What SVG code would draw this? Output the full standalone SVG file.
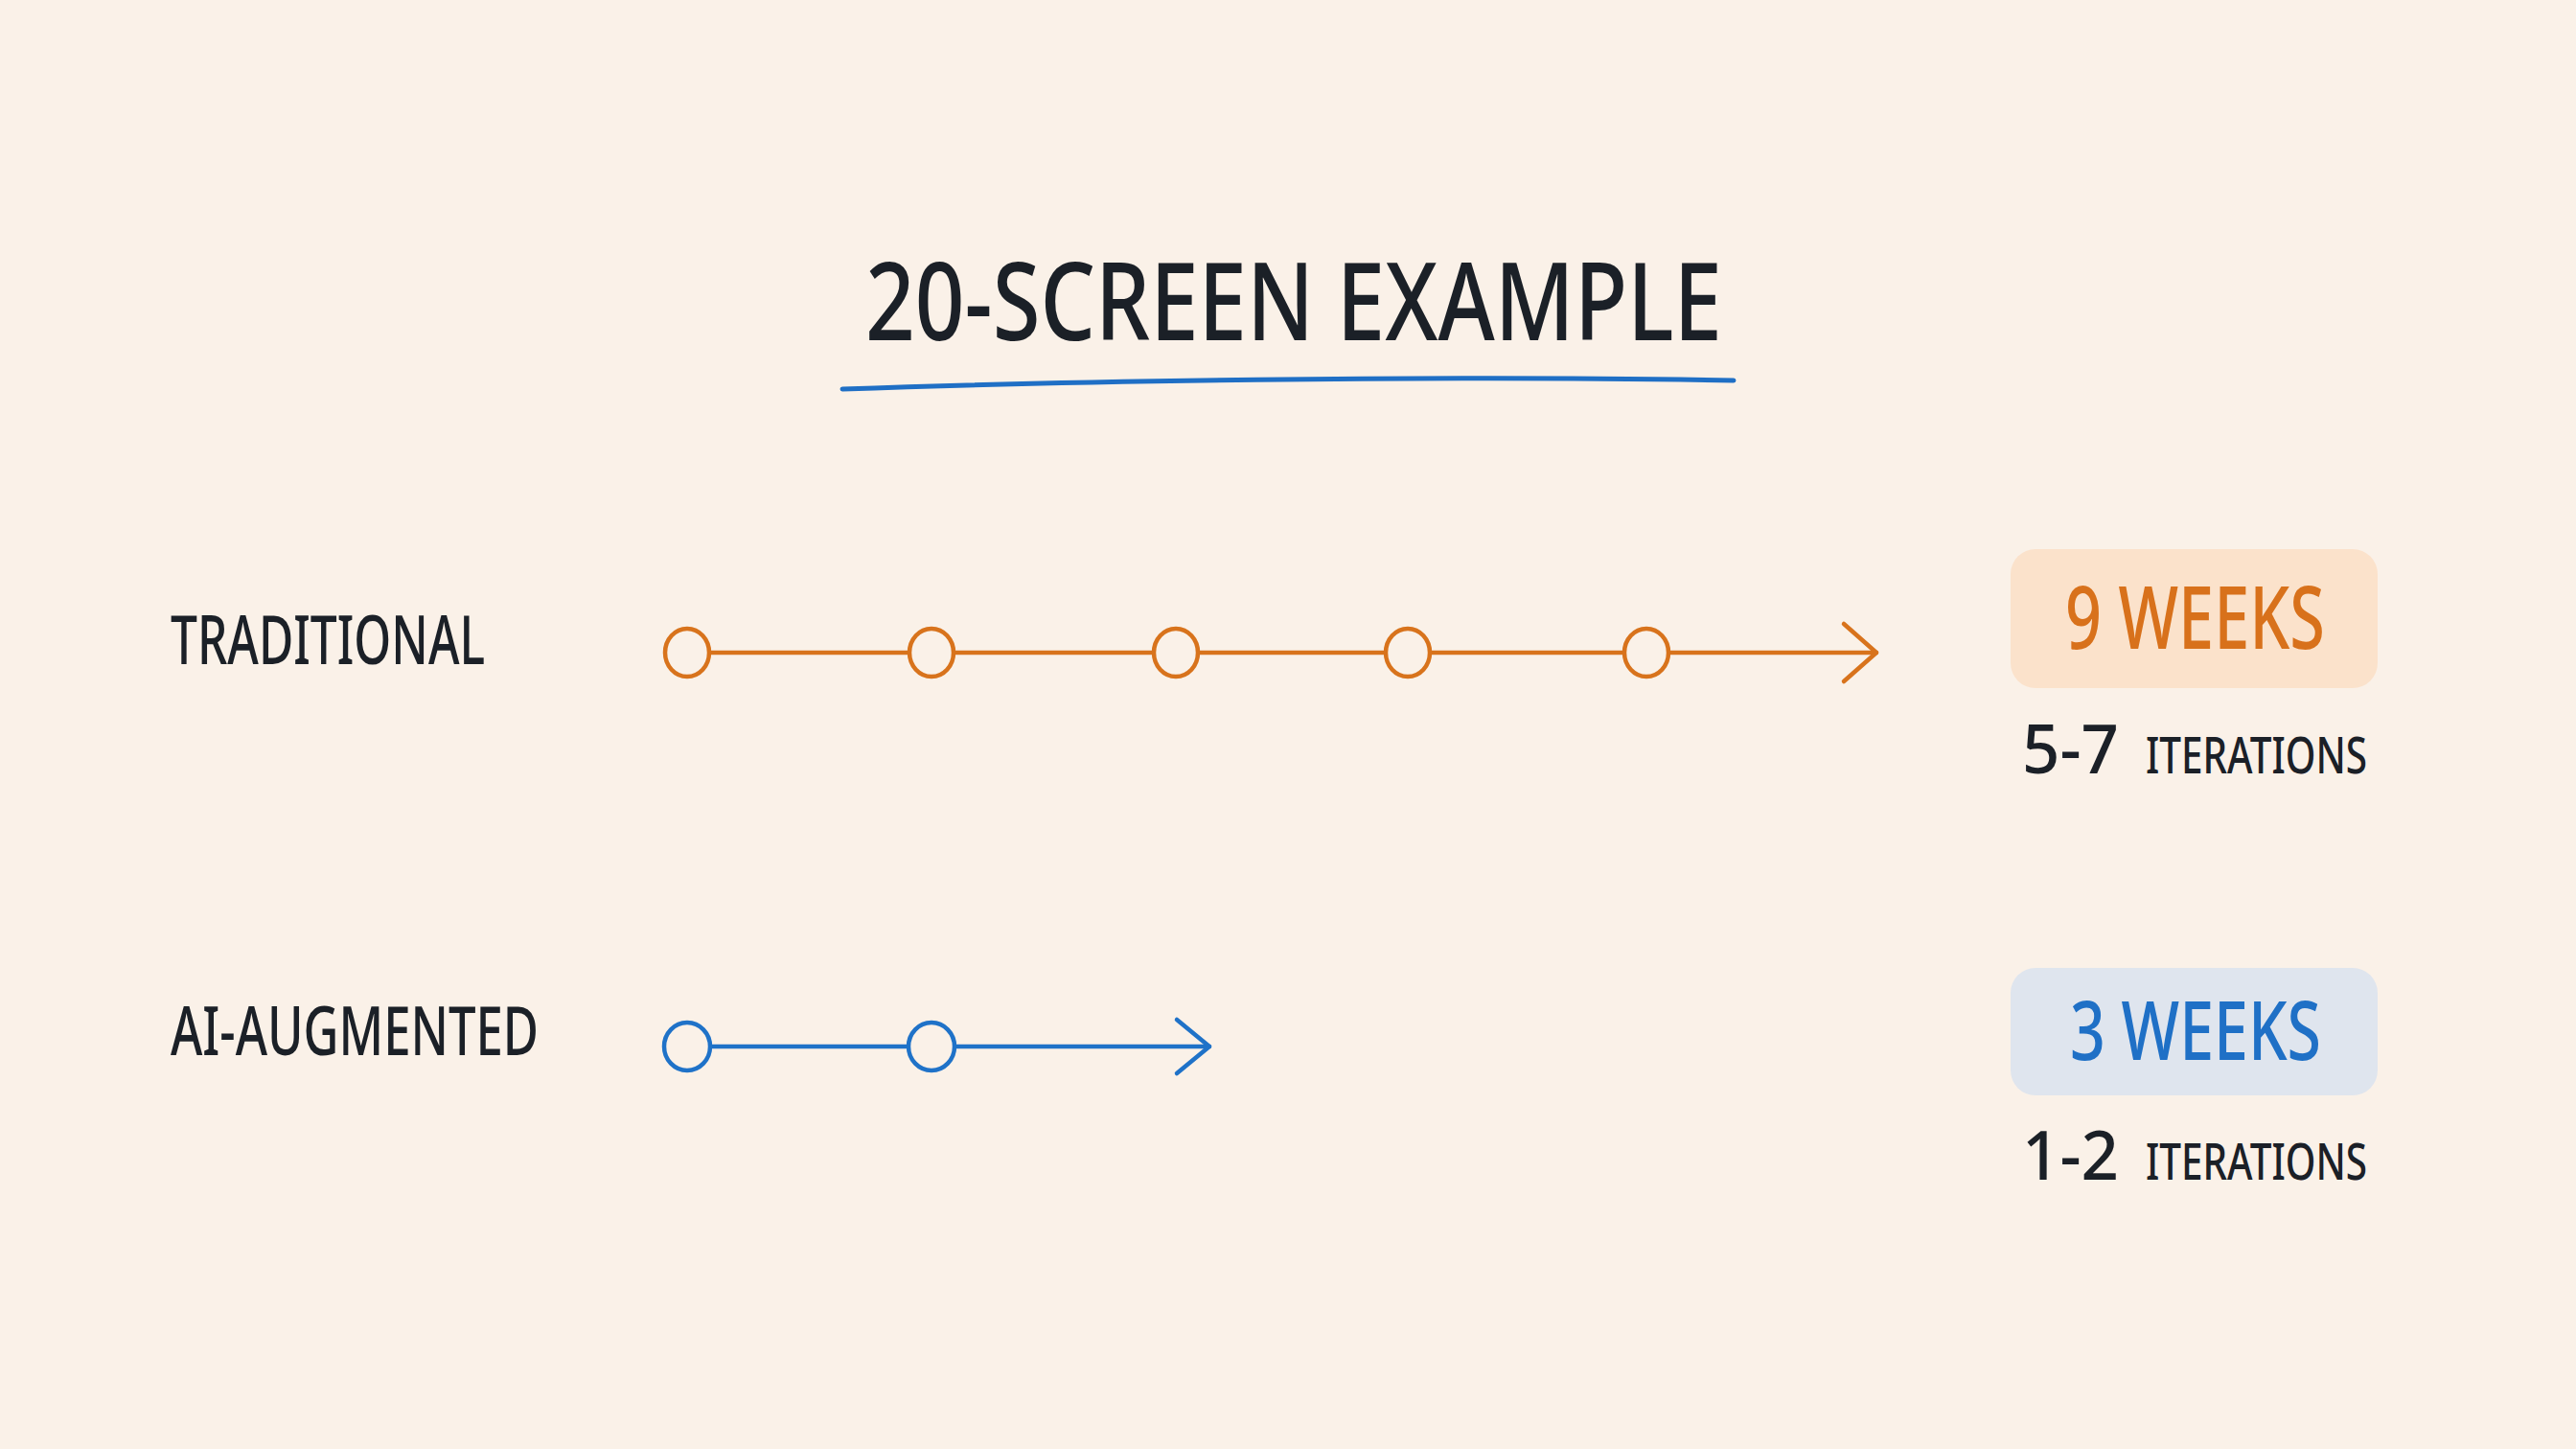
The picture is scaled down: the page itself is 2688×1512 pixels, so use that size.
<svg xmlns="http://www.w3.org/2000/svg" width="2688" height="1512" viewBox="0 0 2688 1512">
  <style>
    .ink { fill: #1b2027; font-family: "Noto Sans", "Open Sans", sans-serif; font-weight: 500; }
    .orangeText { fill: #d8711b; font-family: "Noto Sans", "Open Sans", sans-serif; font-weight: 500; }
    .blueText { fill: #1f70c6; font-family: "Noto Sans", "Open Sans", sans-serif; font-weight: 500; }
    .orangeLine { stroke: #d8731c; stroke-width: 4.5; fill: none; stroke-linecap: round; }
    .blueLine { stroke: #1f72c8; stroke-width: 4.5; fill: none; stroke-linecap: round; }
    .orangeDot { stroke: #d8731c; stroke-width: 4.5; fill: #faf1e8; }
    .blueDot { stroke: #1f72c8; stroke-width: 4.5; fill: #faf1e8; }
  </style>
  <defs>
    <marker id="arrowOrange" viewBox="-42 -36 48 72" refX="0" refY="0" markerWidth="48" markerHeight="72" markerUnits="userSpaceOnUse" orient="auto">
      <path d="M-34,-30 L0,0 L-34,30" fill="none" stroke="#d8731c" stroke-width="4.5" stroke-linecap="round" stroke-linejoin="round"/>
    </marker>
    <marker id="arrowBlue" viewBox="-42 -36 48 72" refX="0" refY="0" markerWidth="48" markerHeight="72" markerUnits="userSpaceOnUse" orient="auto">
      <path d="M-34,-28 L0,0 L-34,28" fill="none" stroke="#1f72c8" stroke-width="4.5" stroke-linecap="round" stroke-linejoin="round"/>
    </marker>
  </defs>

  <rect x="0" y="0" width="2688" height="1512" fill="#faf1e8"/>

  <g id="title">
    <text class="ink" x="903" y="355" font-size="113" textLength="894" lengthAdjust="spacingAndGlyphs">20-SCREEN EXAMPLE</text>
    <path d="M879,406 C1100,398 1500,391 1809,397" fill="none" stroke="#1f6fc5" stroke-width="5" stroke-linecap="round"/>
  </g>

  <g id="label-traditional">
    <text class="ink" x="178" y="693" font-size="70" textLength="328" lengthAdjust="spacingAndGlyphs">TRADITIONAL</text>
  </g>
  <g id="label-ai">
    <text class="ink" x="178" y="1101" font-size="70" textLength="384" lengthAdjust="spacingAndGlyphs">AI-AUGMENTED</text>
  </g>

  <g id="connectors">
    <line class="orangeLine" x1="717" y1="681" x2="1958" y2="681" marker-end="url(#arrowOrange)"/>
    <line class="blueLine" x1="717" y1="1092" x2="1262" y2="1092" marker-end="url(#arrowBlue)"/>
  </g>

  <g id="trad-1"><ellipse class="orangeDot" cx="717" cy="681" rx="23" ry="25"/></g>
  <g id="trad-2"><ellipse class="orangeDot" cx="972" cy="681" rx="23" ry="25"/></g>
  <g id="trad-3"><ellipse class="orangeDot" cx="1227" cy="681" rx="23" ry="25"/></g>
  <g id="trad-4"><ellipse class="orangeDot" cx="1469" cy="681" rx="23" ry="25"/></g>
  <g id="trad-5"><ellipse class="orangeDot" cx="1718" cy="681" rx="23" ry="25"/></g>

  <g id="ai-1"><ellipse class="blueDot" cx="717" cy="1092" rx="24" ry="25"/></g>
  <g id="ai-2"><ellipse class="blueDot" cx="972" cy="1092" rx="24" ry="25"/></g>

  <g id="result-traditional">
    <rect x="2098" y="573" width="383" height="145" rx="26" ry="26" fill="#fbe2cb"/>
    <text class="orangeText" x="2155" y="677" font-size="91" textLength="271" lengthAdjust="spacingAndGlyphs">9 WEEKS</text>
    <text class="ink" x="2110" y="807" font-size="70" textLength="101" lengthAdjust="spacingAndGlyphs">5-7</text>
    <text class="ink" x="2239" y="807" font-size="53" textLength="231" lengthAdjust="spacingAndGlyphs">ITERATIONS</text>
  </g>

  <g id="result-ai">
    <rect x="2098" y="1010" width="383" height="133" rx="26" ry="26" fill="#dfe5ee"/>
    <text class="blueText" x="2160" y="1106" font-size="85" textLength="262" lengthAdjust="spacingAndGlyphs">3 WEEKS</text>
    <text class="ink" x="2110" y="1231" font-size="70" textLength="101" lengthAdjust="spacingAndGlyphs">1-2</text>
    <text class="ink" x="2239" y="1231" font-size="53" textLength="231" lengthAdjust="spacingAndGlyphs">ITERATIONS</text>
  </g>
</svg>
